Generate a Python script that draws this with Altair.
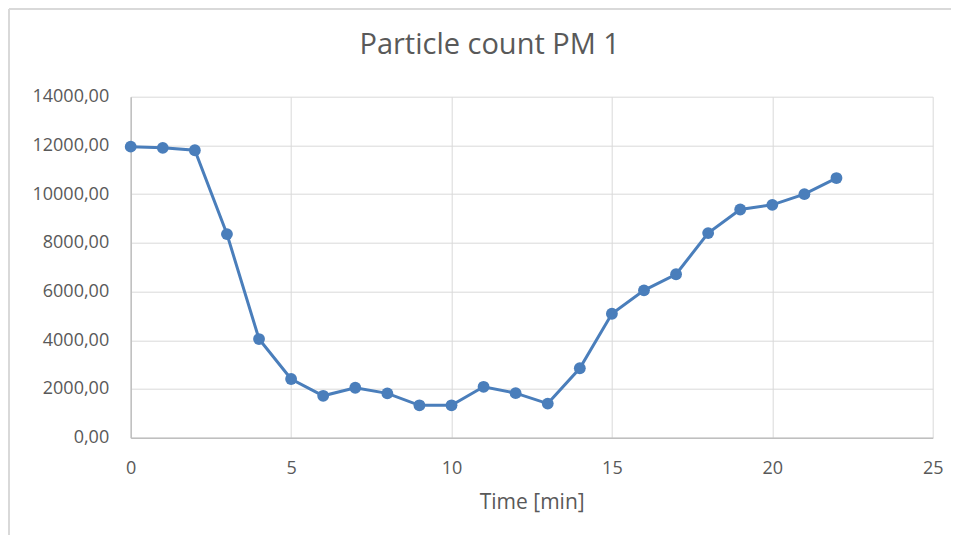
import altair as alt
import pandas as pd

time_min = list(range(0, 23))
particles = [11950, 11900, 11800, 8360, 4050, 2410, 1720, 2050, 1820, 1330, 1330,
             2090, 1830, 1400, 2850, 5090, 6050, 6710, 8400, 9370, 9560, 10000, 10660]
x_ticks = [0, 5, 10, 15, 20, 25]
y_ticks = [0, 2000, 4000, 6000, 8000, 10000, 12000, 14000]
title_text = "Particle count PM 1"

df = pd.DataFrame({"t": time_min, "pm": particles})

W, H = 802, 341
PL, PT = 122.7, 88.7
PR = 943 - PL - W
PB = 527 - PT - H

FONT = "Open Sans"
GREY = "#595959"
BLUE = "#4a7ebb"

x_enc = alt.X("t:Q", title="Time [min]",
              scale=alt.Scale(domain=[0, 25], nice=False),
              axis=alt.Axis(values=x_ticks, ticks=False, labelPadding=22, labelFlush=False,
                            titlePadding=14, format="d"))
y_enc = alt.Y("pm:Q", title=None,
              scale=alt.Scale(domain=[0, 14000], nice=False),
              axis=alt.Axis(values=y_ticks, ticks=False, labelPadding=22, labelFlush=False,
                            labelExpr="replace(format(datum.value, '.2f'), '.', ',')"))

line = alt.Chart(df).mark_line(color=BLUE, strokeWidth=3).encode(x=x_enc, y=y_enc)
pts = alt.Chart(df).mark_circle(color=BLUE, size=140, opacity=1).encode(x="t:Q", y="pm:Q")

one = pd.DataFrame({"label": [title_text]})
border_top = alt.Chart(one).mark_rule(color="#d9d9d9", strokeWidth=2).encode(
    x=alt.value(-PL + 1), x2=alt.value(W + PR), y=alt.value(-PT + 1))
border_left = alt.Chart(one).mark_rule(color="#d9d9d9", strokeWidth=2).encode(
    x=alt.value(-PL + 1), y=alt.value(-PT + 1), y2=alt.value(H + PB))
title = alt.Chart(one).mark_text(font=FONT, fontSize=29, color=GREY, align="center",
                                 baseline="alphabetic").encode(
    text="label:N", x=alt.value(359), y=alt.value(-42.4))

chart = alt.layer(border_top, border_left, line, pts, title).properties(
    width=W, height=H,
    padding={"left": PL, "top": PT, "right": PR, "bottom": PB},
    autosize=alt.AutoSizeParams(type="none"),
).configure_view(stroke=None).configure_axis(
    labelFont=FONT, labelFontSize=18, labelColor=GREY,
    titleFont=FONT, titleFontSize=21, titleColor=GREY, titleFontWeight="normal",
    gridColor="#d9d9d9", gridWidth=1, domainColor="#bfbfbf", domainWidth=1.5,
).configure_axisY(domain=True)

chart.save("out.html", embed_options={"renderer": "svg", "actions": False})
